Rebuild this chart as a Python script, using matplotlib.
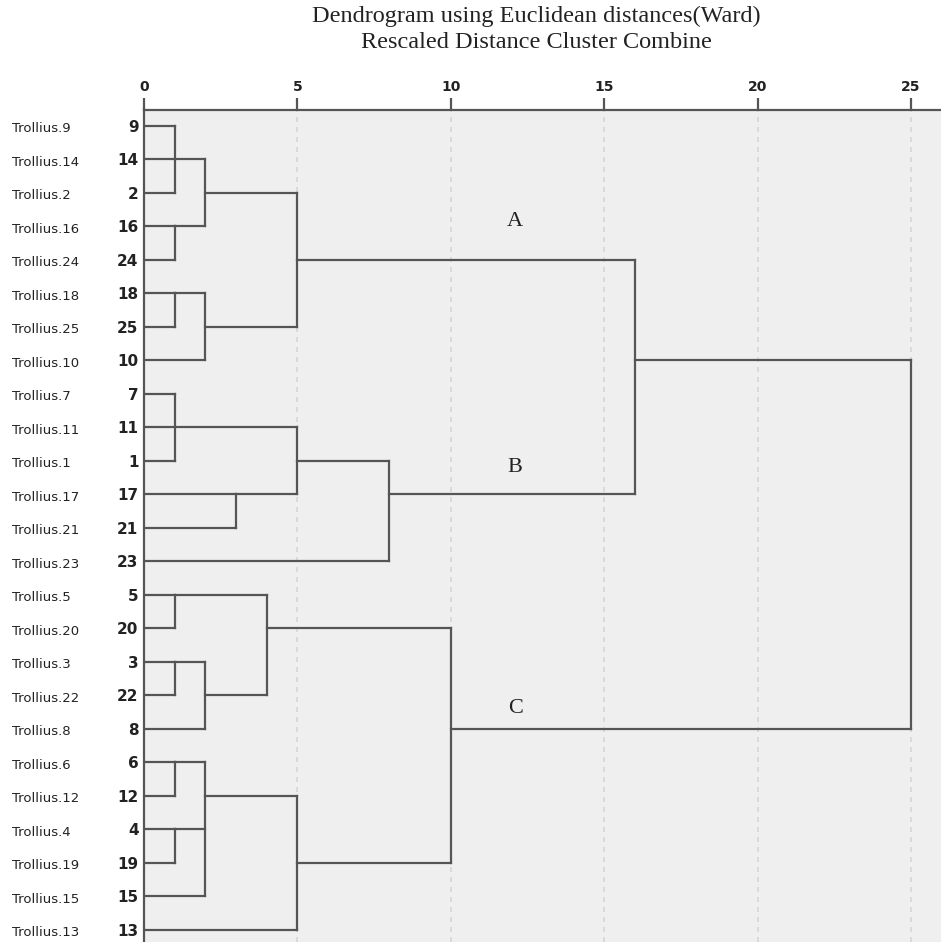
import matplotlib
matplotlib.use("Agg")
import matplotlib.pyplot as plt
import matplotlib.transforms as mtransforms

# leaf order top to bottom
leaves = [9, 14, 2, 16, 24, 18, 25, 10, 7, 11, 1, 17, 21, 23,
          5, 20, 3, 22, 8, 6, 12, 4, 19, 15, 13]

# merges: name, rescaled distance, children, row the merged line leaves from
merge_names = ["a1", "a2", "a3", "a4", "a5", "a6",
               "b1", "b2", "b3", "b4", "ab",
               "c1", "c2", "c3", "c4", "c5", "c6", "c7", "c8", "c9", "top"]
merge_dist = [1, 1, 2, 1, 2, 5,
              1, 3, 5, 8, 16,
              1, 1, 2, 4, 1, 1, 2, 5, 10, 25]
merge_children = [[9, 14, 2], [16, 24], ["a1", "a2"], [18, 25], ["a4", 10], ["a3", "a5"],
                  [7, 11, 1], [17, 21], ["b1", "b2"], ["b3", 23], ["a6", "b4"],
                  [5, 20], [3, 22], ["c2", 8], ["c1", "c3"], [6, 12], [4, 19],
                  ["c5", "c6", 15], ["c7", 13], ["c4", "c8"], ["ab", "c9"]]
merge_row = [1, 3, 2, 5, 6, 4,
             9, 11, 10, 11, 7,
             14, 16, 17, 15, 19, 21, 20, 22, 18, 0]

cluster_labels = ["A", "B", "C"]
cluster_label_x = [12.1, 12.1, 12.1]
cluster_label_row = [2.85, 10.2, 17.4]

line_col = "#555555"

fig = plt.figure(figsize=(9.41, 9.42), dpi=100)
W, H = 941, 942
ax = fig.add_axes([144 / W, 0, 1 - 144 / W, (H - 109.5) / H])
ax.set_facecolor("#efefef")

ax.set_xlim(0, 25.98)
ax.set_ylim(24.36, -0.49)

for g in [5, 10, 15, 20, 25]:
    ax.axvline(g, color="#d6d6d6", lw=1.2, ls=(0, (3, 3)), zorder=1)

pos = {}   # x start and row of each node
for i, lf in enumerate(leaves):
    pos[lf] = (0, i)

for name, d, kids, out in zip(merge_names, merge_dist, merge_children, merge_row):
    rows = []
    for k in kids:
        x0, r = pos[k]
        ax.plot([x0, d], [r, r], color=line_col, lw=1.6, solid_capstyle="projecting", zorder=3)
        rows.append(r)
    ax.plot([d, d], [min(rows), max(rows)], color=line_col, lw=1.6, solid_capstyle="projecting", zorder=3)
    pos[name] = (d, out)

for t, x, r in zip(cluster_labels, cluster_label_x, cluster_label_row):
    ax.text(x, r, t, family="Liberation Serif", fontsize=16, ha="center", va="center", color="#222222")

# axis styling
for s in ["right", "bottom"]:
    ax.spines[s].set_visible(False)
for s in ["top", "left"]:
    ax.spines[s].set_color(line_col)
    ax.spines[s].set_linewidth(1.6)

ax.xaxis.tick_top()
ax.set_xticks([0, 5, 10, 15, 20, 25])
ax.tick_params(axis="x", direction="out", length=9, width=1.6, color=line_col, pad=2,
               labelsize=10)
for lab in ax.get_xticklabels():
    lab.set_fontweight("bold")
    lab.set_color("#222222")

ax.set_yticks(range(len(leaves)))
ax.set_yticklabels([str(v) for v in leaves])
ax.tick_params(axis="y", length=0, pad=4, labelsize=11)
for lab in ax.get_yticklabels():
    lab.set_fontweight("bold")
    lab.set_color("#222222")

trans = mtransforms.blended_transform_factory(fig.transFigure, ax.transData)
for i, lf in enumerate(leaves):
    ax.text(12 / W, i + 0.08, "Trollius.%d" % lf, transform=trans, ha="left", va="center",
            fontsize=9.5, color="#222222", clip_on=False)

fig.text(536 / W, 1 - 16 / H, "Dendrogram using Euclidean distances(Ward)",
         family="Liberation Serif", fontsize=17.5, ha="center", va="center", color="#222222")
fig.text(536 / W, 1 - 42 / H, "Rescaled Distance Cluster Combine",
         family="Liberation Serif", fontsize=17.5, ha="center", va="center", color="#222222")

fig.savefig("out.png", dpi=100)
